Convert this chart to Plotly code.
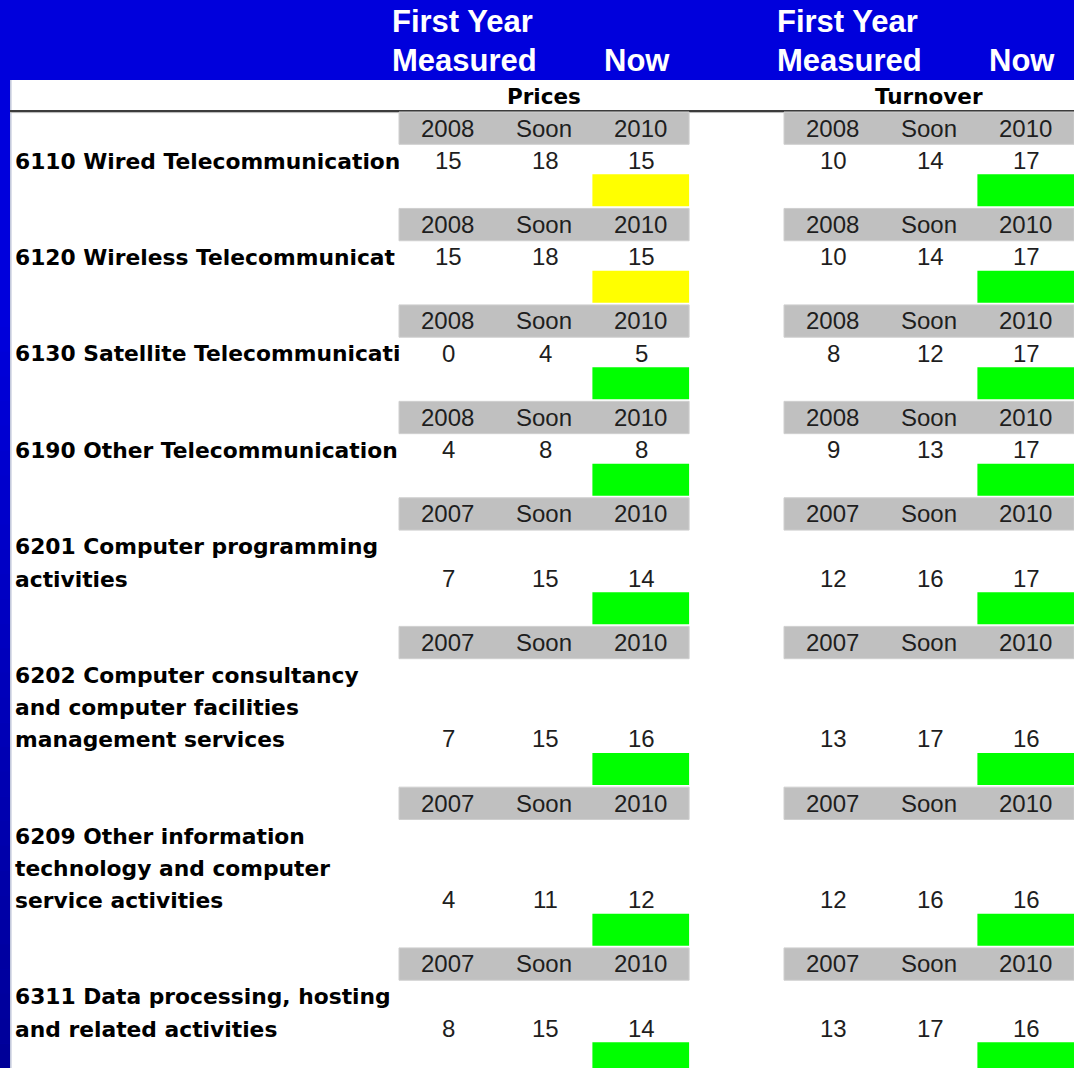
import plotly.graph_objects as go

# ---------------- data ----------------
industry_lines = [
    ["6110 Wired Telecommunication"],
    ["6120 Wireless Telecommunicat"],
    ["6130 Satellite Telecommunicati"],
    ["6190 Other Telecommunication"],
    ["6201 Computer programming", "activities"],
    ["6202 Computer consultancy", "and computer facilities", "management services"],
    ["6209 Other information", "technology and computer", "service activities"],
    ["6311 Data processing, hosting", "and related activities"],
]
first_year = ["2008", "2008", "2008", "2008", "2007", "2007", "2007", "2007"]
soon_label = "Soon"
now_year = "2010"

prices_first = [15, 15, 0, 4, 7, 7, 4, 8]
prices_soon = [18, 18, 4, 8, 15, 15, 11, 15]
prices_now = [15, 15, 5, 8, 14, 16, 12, 14]
prices_status = ["yellow", "yellow", "green", "green", "green", "green", "green", "green"]

turnover_first = [10, 10, 8, 9, 12, 13, 12, 13]
turnover_soon = [14, 14, 12, 13, 16, 17, 16, 17]
turnover_now = [17, 17, 17, 17, 17, 16, 16, 16]
turnover_status = ["green"] * 8

sections = ["Prices", "Turnover"]
header_top = "First Year"
header_mid = "Measured"
header_now = "Now"

# ---------------- styling / layout ----------------
W, H = 1074, 1068
BLUE = "#0000DC"
GRAY = "#C0C0C0"
STATUS_COL = {"yellow": "#FFFF00", "green": "#00FF00"}
ROW0, RH = 128.5, 32.15
COLW = 96.7
SEC_X0 = [399, 784]
LABEL_FONT = dict(family="DejaVu Sans", size=21.8, color="#000000", weight="bold")
CELL_FONT = dict(family="Liberation Sans, Arial", size=24, color="#1e1e1e")


def yc(r):
    return ROW0 + RH * r


# compute block starting rows
block_rows = []
r = 0
for lines in industry_lines:
    block_rows.append(r)
    r += len(lines) + 2

shapes = []
annotations = []

# white table area
shapes.append(dict(type="rect", xref="x", yref="y", x0=10, x1=W, y0=80, y1=H,
                   fillcolor="white", line=dict(width=0), layer="below"))
# left strip gradient
nb = 40
for i in range(nb):
    y0 = 80 + (H - 80) * i / nb
    y1 = 80 + (H - 80) * (i + 1) / nb
    t = max(0.0, (y0 - 300) / (H - 300))
    b = int(round(220 - 70 * t))
    shapes.append(dict(type="rect", xref="x", yref="y", x0=0, x1=10, y0=y0, y1=y1 + 0.5,
                       fillcolor=f"rgb(0,0,{b})", line=dict(width=0), layer="below"))
shapes.append(dict(type="line", xref="x", yref="y", x0=10.8, x1=10.8, y0=80, y1=H,
                   line=dict(color="#c4cadc", width=1.6), layer="below"))
# header rule
shapes.append(dict(type="line", xref="x", yref="y", x0=10, x1=W, y0=110.9, y1=110.9,
                   line=dict(color="#3c3c3c", width=2), layer="below"))
shapes.append(dict(type="line", xref="x", yref="y", x0=10, x1=W, y0=112.6, y1=112.6,
                   line=dict(color="#b4b4b4", width=1), layer="below"))
# mask to clip long labels at the value columns
shapes.append(dict(type="rect", xref="x", yref="y", x0=399.5, x1=W, y0=113.5, y1=H,
                   fillcolor="white", line=dict(width=0), layer="above"))

label_x, label_y, label_t = [], [], []
for b, lines in enumerate(industry_lines):
    r0 = block_rows[b]
    n = len(lines)
    val_row = r0 + n
    col_row = r0 + n + 1
    for k, ln in enumerate(lines):
        label_x.append(15)
        label_y.append(yc(r0 + 1 + k) + 2.5)
        label_t.append(ln)
    vals = [
        (prices_first[b], prices_soon[b], prices_now[b], prices_status[b]),
        (turnover_first[b], turnover_soon[b], turnover_now[b], turnover_status[b]),
    ]
    for s, x0 in enumerate(SEC_X0):
        # gray year header row
        shapes.append(dict(type="rect", xref="x", yref="y", x0=x0, x1=x0 + 3 * COLW,
                           y0=yc(r0) - 16.5, y1=yc(r0) + 15.8,
                           fillcolor=GRAY, line=dict(color="#cfcfcf", width=1), layer="above"))
        # status cell
        shapes.append(dict(type="rect", xref="x", yref="y", x0=x0 + 2 * COLW, x1=x0 + 3 * COLW,
                           y0=yc(col_row) - 18.5, y1=yc(col_row) + 13.5,
                           fillcolor=STATUS_COL[vals[s][3]], line=dict(width=0), layer="above"))
        heads = [first_year[b], soon_label, now_year]
        for c in range(3):
            cx = x0 + COLW * (c + 0.5)
            annotations.append(dict(x=cx, y=yc(r0) - 0.5, xref="x", yref="y", text=heads[c],
                                    showarrow=False, font=CELL_FONT, xanchor="center", yanchor="middle"))
            annotations.append(dict(x=cx + 1, y=yc(val_row) - 0.5, xref="x", yref="y",
                                    text=str(vals[s][c]), showarrow=False, font=CELL_FONT,
                                    xanchor="center", yanchor="middle"))

# section titles
for s, x0 in enumerate(SEC_X0):
    annotations.append(dict(x=x0 + 1.5 * COLW, y=96, xref="x", yref="y", text=sections[s],
                            showarrow=False, font=dict(family="DejaVu Sans", size=21.5, color="#000",
                                                       weight="bold"),
                            xanchor="center", yanchor="middle"))
    hx = x0 - 9
    hf = dict(family="Liberation Sans, Arial", size=31, color="white", weight="bold")
    annotations.append(dict(x=hx, y=21, xref="x", yref="y", text=header_top, showarrow=False,
                            font=hf, xanchor="left", yanchor="middle"))
    annotations.append(dict(x=hx, y=60, xref="x", yref="y", text=header_mid, showarrow=False,
                            font=hf, xanchor="left", yanchor="middle"))
    annotations.append(dict(x=x0 + 2.5 * COLW - 4, y=60, xref="x", yref="y", text=header_now,
                            showarrow=False, font=hf, xanchor="center", yanchor="middle"))

fig = go.Figure()
fig.add_trace(go.Scatter(x=label_x, y=label_y, text=label_t, mode="text",
                         textposition="middle right", textfont=LABEL_FONT,
                         hoverinfo="skip", showlegend=False, cliponaxis=False))

fig.update_layout(
    width=W, height=H, margin=dict(l=0, r=0, t=0, b=0, pad=0),
    paper_bgcolor=BLUE, plot_bgcolor=BLUE,
    xaxis=dict(range=[0, W], visible=False, fixedrange=True),
    yaxis=dict(range=[H, 0], visible=False, fixedrange=True),
    shapes=shapes, annotations=annotations, showlegend=False,
)
fig.write_html("out.html", config={"displayModeBar": False},
               post_script="document.body.style.margin='0';document.body.style.overflow='hidden';")
